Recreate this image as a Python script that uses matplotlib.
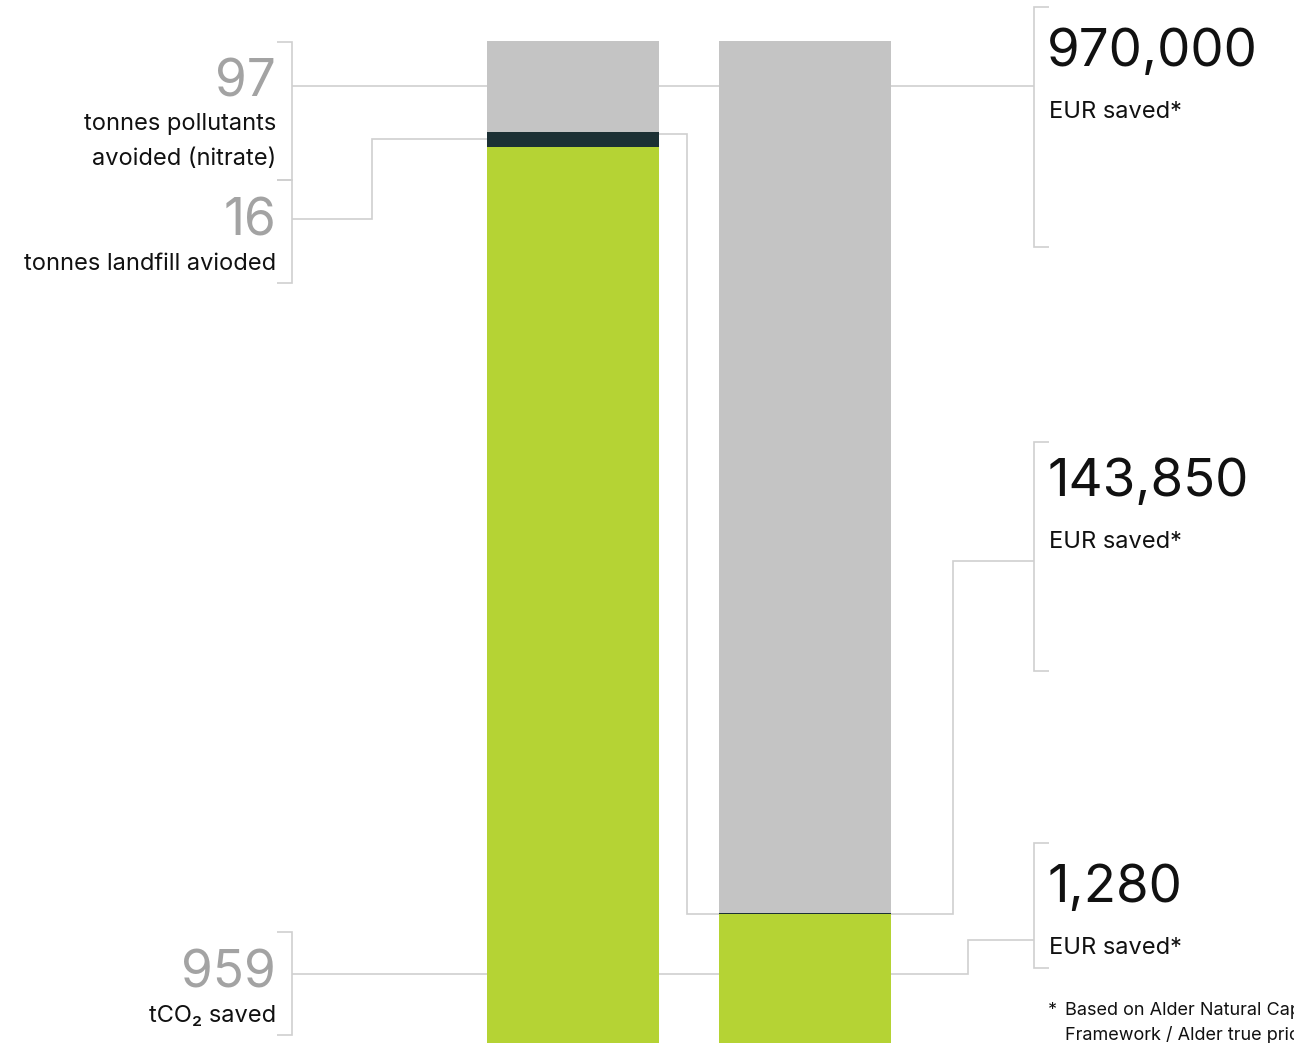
import matplotlib.pyplot as plt

plt.rcParams['font.family'] = ['Inter', 'DejaVu Sans']

# stacked values, bottom to top: CO2, landfill, pollutants
segments = ["tCO2 saved", "tonnes landfill", "tonnes pollutants"]
left_vals = [959, 16, 97]             # tonnes
right_vals = [141.7, 1.28, 929]       # bar heights as drawn, same scale
seg_colors = ["#b5d334", "#1c3034", "#c4c4c4"]

left_nums = ["97", "16", "959"]
left_texts = [["tonnes pollutants", "avoided (nitrate)"],
              ["tonnes landfill avioded"],
              ["tCO\u2082 saved"]]
right_nums = ["970,000", "143,850", "1,280"]
right_text = "EUR saved*"
footnote = ["Based on Alder Natural Capital", "Framework / Alder true price"]

W, H = 1294, 1043
fig = plt.figure(figsize=(W / 100, H / 100), dpi=100)
ax = fig.add_axes([0, 0, 1, 1])
ax.axis("off")

ppu = 1006 / sum(left_vals)   # pixels per unit
base_px = 1047                # pixel row of the bar baseline
ax.set_xlim(0, W)
ax.set_ylim((base_px - H) / ppu, base_px / ppu)


def py(p):
    return (base_px - p) / ppu


# bars
for x0, vals in [(487, left_vals), (719, right_vals)]:
    bottom = 0
    for v, c in zip(vals, seg_colors):
        ax.bar(x0, v, width=172, bottom=bottom, color=c, align="edge",
               zorder=2, linewidth=0)
        bottom += v

lc = "#cfcfcf"
lw = 1.2


def line(xs, ys):
    ax.plot(xs, [py(y) for y in ys], color=lc, lw=lw, zorder=1,
            solid_capstyle="butt", solid_joinstyle="miter")


def bracket(x, y0, y1, side):
    d = -15 if side == "left" else 15
    line([x + d, x, x, x + d], [y0, y0, y1, y1])


# left brackets
bracket(292, 42, 180, "left")
bracket(292, 180, 283, "left")
bracket(292, 932, 1035, "left")
# right brackets
bracket(1034, 7, 247, "right")
bracket(1034, 442, 671, "right")
bracket(1034, 843, 968, "right")

# connectors
line([292, 487], [86, 86])
line([659, 719], [86, 86])
line([891, 1034], [86, 86])
line([292, 372, 372, 487], [219, 219, 139, 139])
line([659, 687, 687, 953, 953, 1034], [134, 134, 914, 914, 561, 561])
line([292, 487], [974, 974])
line([659, 719], [974, 974])
line([891, 968, 968, 1034], [974, 974, 940, 940])


def ftext(x, y, s, **kw):
    fig.text(x / W, 1 - y / H, s, va="baseline", **kw)


# left labels
num_y = [96, 236, 988]
for n, ys, texts in zip(left_nums, num_y, left_texts):
    ftext(276, ys, n, ha="right", fontsize=37, color="#a3a3a3")
    for i, t in enumerate(texts):
        ftext(276, ys + 34 + 35 * i, t, ha="right", fontsize=17, color="#111111")

# right labels
rnum_y = [66, 496, 902]
for n, ys in zip(right_nums, rnum_y):
    ftext(1047, ys, n, ha="left", fontsize=38, color="#111111")
    ftext(1049, ys + 52, right_text, ha="left", fontsize=17, color="#111111")

# footnote runs off the right edge, as in the reference
ftext(1048, 1015, "*", ha="left", fontsize=13, color="#111111")
ftext(1065, 1015, footnote[0], ha="left", fontsize=13, color="#111111")
ftext(1065, 1040, footnote[1], ha="left", fontsize=13, color="#111111")

fig.savefig("out.png", dpi=100, facecolor="white")
